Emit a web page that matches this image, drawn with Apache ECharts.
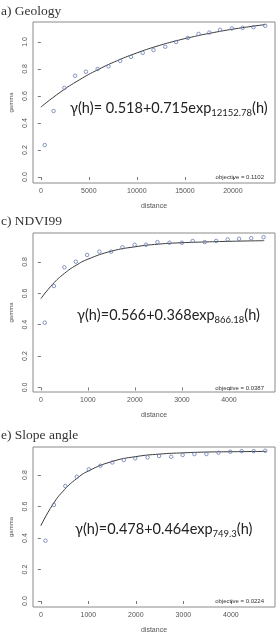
<!DOCTYPE html>
<html><head><meta charset="utf-8">
<script src="https://cdn.jsdelivr.net/npm/echarts@6/dist/echarts.min.js"></script>
<style>html,body{margin:0;padding:0;background:#fff}#c{width:279px;height:638px}</style>
</head><body><div id="c"></div>
<script>
// ---- Data ----
const geoDist  = [408,1327,2449,3571,4694,5918,7041,8265,9388,10612,11735,12959,14082,15306,16429,17551,18673,19898,21020,22143,23367];
const geoGamma = [0.237,0.489,0.66,0.75,0.78,0.80,0.82,0.86,0.89,0.92,0.94,0.965,1.0,1.03,1.06,1.07,1.09,1.10,1.105,1.11,1.12];
const geoCurveX = [0,2000,4000,6000,8000,10000,12000,14000,16000,18000,20000,22000,23400];
const geoCurveY = [0.518,0.627,0.719,0.797,0.863,0.919,0.967,1.007,1.041,1.070,1.095,1.116,1.129];

const ndviDist  = [83,277,500,744,985,1244,1494,1735,1994,2235,2479,2735,3000,3229,3485,3729,3973,4215,4473,4735];
const ndviGamma = [0.413,0.647,0.766,0.802,0.845,0.866,0.866,0.894,0.910,0.910,0.927,0.923,0.923,0.934,0.927,0.934,0.944,0.948,0.952,0.958];
const ndviCurveX = [0,250,500,750,1000,1500,2000,2500,3000,3500,4000,4750];
const ndviCurveY = [0.566,0.658,0.727,0.779,0.818,0.869,0.897,0.914,0.923,0.928,0.932,0.936];

const slopeDist  = [97,274,515,757,1010,1252,1505,1746,1986,2247,2489,2742,2984,3231,3485,3738,3986,4227,4480,4722];
const slopeGamma = [0.383,0.61,0.73,0.789,0.836,0.859,0.880,0.895,0.906,0.912,0.921,0.916,0.927,0.933,0.933,0.942,0.948,0.952,0.952,0.954];
const slopeCurveX = [0,250,500,750,1000,1500,2000,2500,3000,3500,4000,4750];
const slopeCurveY = [0.478,0.612,0.708,0.776,0.826,0.886,0.917,0.933,0.941,0.946,0.948,0.950];

const yTicks = [0,0.2,0.4,0.6,0.8,1.0];
const geoXTicks = [0,5000,10000,15000,20000];
const smallXTicks = [0,1000,2000,3000,4000];

const panelTitles = ['a) Geology','c) NDVI99','e) Slope angle'];
const eqMain = [['γ(h)= 0.518+0.715exp','12152.78'],['γ(h)=0.566+0.368exp','866.18'],['γ(h)=0.478+0.464exp','749.3']];
const objectives = ['objective = 0.1102','objective = 0.0387','objective = 0.0224'];

// ---- Layout ----
const grids = [
  {left:28, top:22, width:247, height:161},
  {left:28, top:233, width:247, height:159},
  {left:28, top:447, width:247, height:160}
];
const xr = [[-816,24388],[-167,4979],[-165,4928]];
const yr = [[-0.044,1.148],[-0.029,0.985],[-0.038,0.978]];
const xt = [geoXTicks, smallXTicks, smallXTicks];

const lblFont = {fontFamily:'Liberation Sans, Arial', fontSize:7, color:'#555'};
const ptColor = '#6a7db2';

const option = {
  animation:false,
  backgroundColor:'#fff',
  grid: grids.map(g => Object.assign({show:true, borderColor:'#8a8a8a', borderWidth:1, backgroundColor:'transparent'}, g)),
  xAxis: grids.map((g,i) => ({
    type:'value', gridIndex:i, min:xr[i][0], max:xr[i][1],
    name:'distance', nameLocation:'middle', nameGap:20,
    nameTextStyle:Object.assign({}, lblFont),
    axisLine:{show:false}, splitLine:{show:false},
    axisTick:{show:true, inside:false, length:3, customValues:xt[i], lineStyle:{color:'#777'}},
    axisLabel:Object.assign({margin:5, customValues:xt[i], formatter:v=>String(v)}, lblFont)
  })),
  yAxis: grids.map((g,i) => ({
    type:'value', gridIndex:i, min:yr[i][0], max:yr[i][1],
    name:'gamma', nameLocation:'middle', nameGap:19, nameRotate:90,
    nameTextStyle:Object.assign({}, lblFont, {fontSize:6}),
    axisLine:{show:false}, splitLine:{show:false},
    axisTick:{show:true, inside:false, length:3, customValues:yTicks, lineStyle:{color:'#777'}},
    axisLabel:Object.assign({margin:4, rotate:90, customValues:yTicks, formatter:v=>v.toFixed(1)}, lblFont)
  })),
  title: [],
  series: []
};

const pts = [[geoDist,geoGamma],[ndviDist,ndviGamma],[slopeDist,slopeGamma]];
const crv = [[geoCurveX,geoCurveY],[ndviCurveX,ndviCurveY],[slopeCurveX,slopeCurveY]];
for (let i=0;i<3;i++){
  option.series.push({
    type:'line', xAxisIndex:i, yAxisIndex:i, smooth:true, showSymbol:false,
    data: crv[i][0].map((x,k)=>[x,crv[i][1][k]]),
    lineStyle:{color:'#3a3a3a', width:1}, z:2
  });
  option.series.push({
    type:'scatter', xAxisIndex:i, yAxisIndex:i, symbol:'circle', symbolSize:3.5,
    data: pts[i][0].map((x,k)=>[x,pts[i][1][k]]),
    itemStyle:{color:'rgba(0,0,0,0)', borderColor:ptColor, borderWidth:1}, z:3
  });
}

const titleTops = [4, 214, 428];
const eqPos = [[70,98],[77,305],[75,519]];
const objTops = [174, 385, 598];
const mStyle = {fontFamily:'Lato', fontSize:14.5, fontWeight:'normal', color:'#222', lineHeight:20};
const sStyle = {fontFamily:'Lato', fontSize:9.5, fontWeight:'normal', color:'#222', lineHeight:20, padding:[9,0,0,0]};
for (let i=0;i<3;i++){
  option.title.push({text:panelTitles[i], left:1, top:titleTops[i], padding:0,
    textStyle:{fontFamily:'Liberation Serif, DejaVu Serif, serif', fontSize:13.5, fontWeight:'normal', color:'#333'}});
  option.title.push({
    text:'{m|'+eqMain[i][0]+'}{s|'+eqMain[i][1]+'}{m|(h)}',
    left:eqPos[i][0], top:eqPos[i][1], padding:0,
    textStyle:{fontWeight:'normal', rich:{m:mStyle, s:sStyle}}
  });
  option.title.push({text:objectives[i], right:15, top:objTops[i], padding:0,
    textStyle:{fontFamily:'Liberation Sans, Arial', fontSize:6, fontWeight:'normal', color:'#333'}});
}

const chart = echarts.init(document.getElementById('c'), null, {renderer:'canvas'});
chart.setOption(option);
</script></body></html>
